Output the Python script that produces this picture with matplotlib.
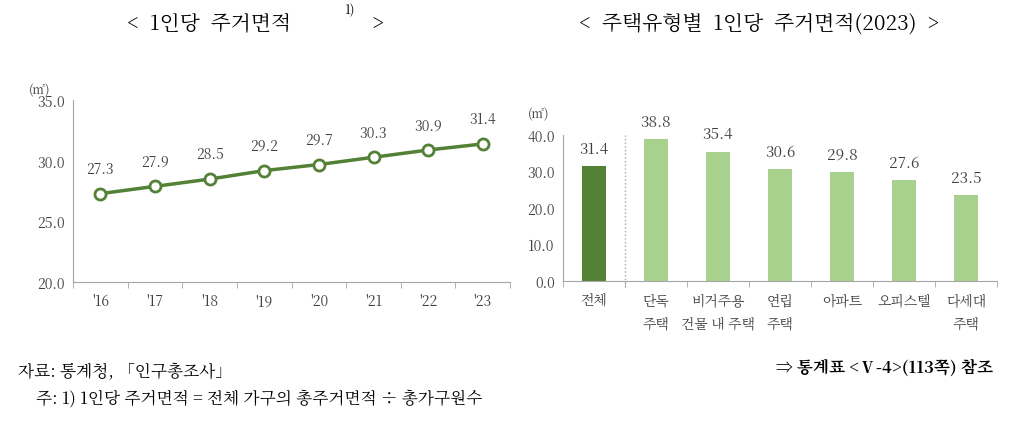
import matplotlib
matplotlib.use("Agg")
import matplotlib.pyplot as plt
from matplotlib import font_manager as fm
import numpy as np

cands = [f.name for f in fm.fontManager.ttflist if "CJK" in f.name]
pref = [n for n in cands if "KR" in n] or cands
plt.rcParams["font.family"] = [pref[0] if pref else "Noto Sans CJK KR", "DejaVu Sans"]

years = ["'16", "'17", "'18", "'19", "'20", "'21", "'22", "'23"]
area = [27.3, 27.9, 28.5, 29.2, 29.7, 30.3, 30.9, 31.4]

types = ["전체", "단독\n주택", "비거주용\n건물 내 주택", "연립\n주택", "아파트", "오피스텔", "다세대\n주택"]
type_area = [31.4, 38.8, 35.4, 30.6, 29.8, 27.6, 23.5]

dark = "#538135"
light = "#a9d18e"
grey = "#a6a6a6"
tc = "#404040"

fig = plt.figure(figsize=(10.19, 4.31), dpi=100)

def style(ax):
    for s in ["top", "right"]:
        ax.spines[s].set_visible(False)
    for s in ["left", "bottom"]:
        ax.spines[s].set_color(grey)
    ax.tick_params(axis="y", colors=grey, labelcolor=tc, labelsize=10, length=0, pad=6)
    ax.tick_params(axis="x", which="major", length=0, labelcolor=tc, labelsize=10, pad=8)
    ax.tick_params(axis="x", which="minor", length=4, color=grey)

ax1 = fig.add_axes([0.0716, 0.343, 0.429, 0.422])
x = np.arange(len(years))
ax1.plot(x, area, color=dark, lw=2.5, marker="o", ms=8, mfc="white", mec=dark, mew=2, zorder=3)
for xi, v in zip(x, area):
    ax1.annotate(f"{v:.1f}", (xi, v), xytext=(0, 12), textcoords="offset points",
                 ha="center", va="bottom", fontsize=10, color=tc)
ax1.set_ylim(20, 35)
ax1.set_yticks([20, 25, 30, 35])
ax1.set_yticklabels([f"{v:.1f}" for v in [20, 25, 30, 35]])
ax1.set_xlim(-0.5, len(years) - 0.5)
ax1.set_xticks(x)
ax1.set_xticklabels(years)
ax1.set_xticks(np.arange(-0.5, len(years)), minor=True)
style(ax1)
ax1.text(-0.1, 1.02, "(㎡)", transform=ax1.transAxes, fontsize=9, color=tc, ha="left", va="bottom")

ax2 = fig.add_axes([0.5525, 0.346, 0.426, 0.339])
xb = np.arange(len(types))
colors = [dark] + [light] * (len(types) - 1)
ax2.bar(xb, type_area, width=0.4, color=colors)
for xi, v in zip(xb, type_area):
    ax2.text(xi, v + 2.5, f"{v:.1f}", ha="center", va="bottom", fontsize=11, color=tc)
ax2.set_ylim(0, 40)
ax2.set_yticks([0, 10, 20, 30, 40])
ax2.set_yticklabels([f"{v:.1f}" for v in [0, 10, 20, 30, 40]])
ax2.set_xlim(-0.5, len(types) - 0.5)
ax2.set_xticks(xb)
ax2.set_xticklabels(types, linespacing=1.6)
ax2.set_xticks(np.arange(-0.5, len(types)), minor=True)
ax2.axvline(0.5, ymin=-0.04, ymax=1.0, color=grey, ls=":", lw=1, clip_on=False)
style(ax2)
ax2.text(-0.08, 1.1, "(㎡)", transform=ax2.transAxes, fontsize=9, color=tc, ha="left", va="bottom")

fig.text(0.125, 0.945, "<  1인당  주거면적", ha="left", va="center", fontsize=15)
fig.text(0.338, 0.975, "1)", ha="left", va="center", fontsize=9)
fig.text(0.365, 0.945, ">", ha="left", va="center", fontsize=15)
fig.text(0.745, 0.945, "<  주택유형별  1인당  주거면적(2023)  >", ha="center", va="center", fontsize=15)

fig.text(0.018, 0.135, "자료: 통계청, 「인구총조사」", fontsize=12, va="center")
fig.text(0.035, 0.075, "주: 1) 1인당 주거면적 = 전체 가구의 총주거면적 ÷ 총가구원수", fontsize=12, va="center")
fig.text(0.975, 0.145, "⇒ 통계표 <Ⅴ-4>(113쪽) 참조", fontsize=12, va="center", ha="right", fontweight="bold")

fig.savefig("out.png", dpi=100)
